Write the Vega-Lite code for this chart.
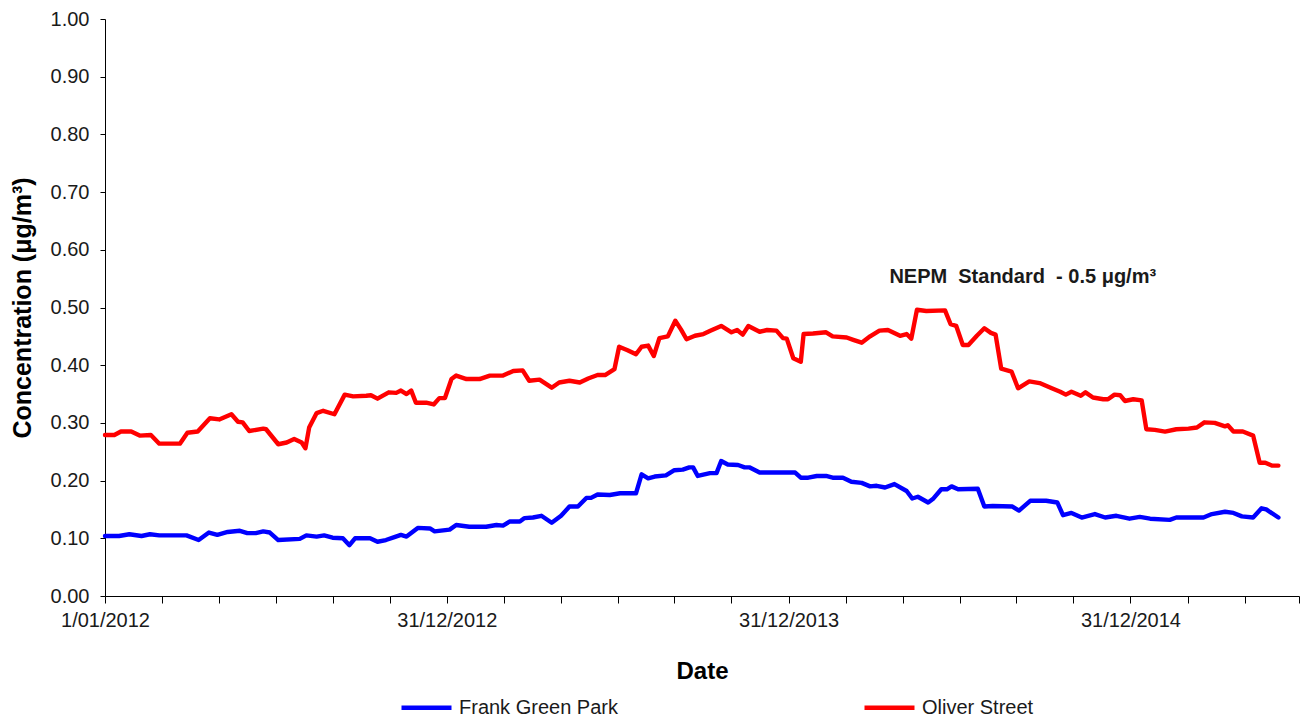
{
  "$schema": "https://vega.github.io/schema/vega-lite/v6.json",
  "autosize": "none",
  "width": 1194,
  "height": 577,
  "padding": {"left": 105, "top": 19, "right": 3, "bottom": 124},
  "background": "white",
  "config": {"font": "Liberation Sans", "view": {"stroke": null}},
  "datasets": {
    "series": [
      {"date":"2012-01-01","site":"Frank Green Park","value":0.104},
      {"date":"2012-01-16","site":"Frank Green Park","value":0.104},
      {"date":"2012-01-27","site":"Frank Green Park","value":0.107},
      {"date":"2012-02-09","site":"Frank Green Park","value":0.104},
      {"date":"2012-02-18","site":"Frank Green Park","value":0.107},
      {"date":"2012-02-28","site":"Frank Green Park","value":0.105},
      {"date":"2012-03-28","site":"Frank Green Park","value":0.105},
      {"date":"2012-04-10","site":"Frank Green Park","value":0.097},
      {"date":"2012-04-21","site":"Frank Green Park","value":0.110},
      {"date":"2012-04-30","site":"Frank Green Park","value":0.106},
      {"date":"2012-05-11","site":"Frank Green Park","value":0.111},
      {"date":"2012-05-24","site":"Frank Green Park","value":0.113},
      {"date":"2012-06-01","site":"Frank Green Park","value":0.109},
      {"date":"2012-06-10","site":"Frank Green Park","value":0.109},
      {"date":"2012-06-18","site":"Frank Green Park","value":0.112},
      {"date":"2012-06-25","site":"Frank Green Park","value":0.110},
      {"date":"2012-07-04","site":"Frank Green Park","value":0.097},
      {"date":"2012-07-27","site":"Frank Green Park","value":0.099},
      {"date":"2012-08-03","site":"Frank Green Park","value":0.105},
      {"date":"2012-08-14","site":"Frank Green Park","value":0.103},
      {"date":"2012-08-22","site":"Frank Green Park","value":0.105},
      {"date":"2012-08-31","site":"Frank Green Park","value":0.101},
      {"date":"2012-09-11","site":"Frank Green Park","value":0.100},
      {"date":"2012-09-18","site":"Frank Green Park","value":0.088},
      {"date":"2012-09-24","site":"Frank Green Park","value":0.100},
      {"date":"2012-10-10","site":"Frank Green Park","value":0.100},
      {"date":"2012-10-18","site":"Frank Green Park","value":0.094},
      {"date":"2012-10-27","site":"Frank Green Park","value":0.097},
      {"date":"2012-11-05","site":"Frank Green Park","value":0.102},
      {"date":"2012-11-12","site":"Frank Green Park","value":0.106},
      {"date":"2012-11-18","site":"Frank Green Park","value":0.103},
      {"date":"2012-11-30","site":"Frank Green Park","value":0.118},
      {"date":"2012-12-13","site":"Frank Green Park","value":0.117},
      {"date":"2012-12-18","site":"Frank Green Park","value":0.112},
      {"date":"2013-01-03","site":"Frank Green Park","value":0.115},
      {"date":"2013-01-10","site":"Frank Green Park","value":0.123},
      {"date":"2013-01-24","site":"Frank Green Park","value":0.120},
      {"date":"2013-02-11","site":"Frank Green Park","value":0.120},
      {"date":"2013-02-22","site":"Frank Green Park","value":0.123},
      {"date":"2013-03-01","site":"Frank Green Park","value":0.122},
      {"date":"2013-03-08","site":"Frank Green Park","value":0.129},
      {"date":"2013-03-19","site":"Frank Green Park","value":0.129},
      {"date":"2013-03-24","site":"Frank Green Park","value":0.135},
      {"date":"2013-04-02","site":"Frank Green Park","value":0.136},
      {"date":"2013-04-11","site":"Frank Green Park","value":0.139},
      {"date":"2013-04-22","site":"Frank Green Park","value":0.127},
      {"date":"2013-05-02","site":"Frank Green Park","value":0.139},
      {"date":"2013-05-11","site":"Frank Green Park","value":0.155},
      {"date":"2013-05-20","site":"Frank Green Park","value":0.155},
      {"date":"2013-05-29","site":"Frank Green Park","value":0.170},
      {"date":"2013-06-03","site":"Frank Green Park","value":0.170},
      {"date":"2013-06-10","site":"Frank Green Park","value":0.176},
      {"date":"2013-06-23","site":"Frank Green Park","value":0.175},
      {"date":"2013-07-04","site":"Frank Green Park","value":0.178},
      {"date":"2013-07-21","site":"Frank Green Park","value":0.178},
      {"date":"2013-07-27","site":"Frank Green Park","value":0.211},
      {"date":"2013-08-03","site":"Frank Green Park","value":0.204},
      {"date":"2013-08-10","site":"Frank Green Park","value":0.207},
      {"date":"2013-08-22","site":"Frank Green Park","value":0.209},
      {"date":"2013-08-31","site":"Frank Green Park","value":0.218},
      {"date":"2013-09-09","site":"Frank Green Park","value":0.219},
      {"date":"2013-09-16","site":"Frank Green Park","value":0.223},
      {"date":"2013-09-20","site":"Frank Green Park","value":0.223},
      {"date":"2013-09-25","site":"Frank Green Park","value":0.208},
      {"date":"2013-10-08","site":"Frank Green Park","value":0.213},
      {"date":"2013-10-15","site":"Frank Green Park","value":0.213},
      {"date":"2013-10-20","site":"Frank Green Park","value":0.234},
      {"date":"2013-10-27","site":"Frank Green Park","value":0.228},
      {"date":"2013-11-07","site":"Frank Green Park","value":0.227},
      {"date":"2013-11-14","site":"Frank Green Park","value":0.223},
      {"date":"2013-11-19","site":"Frank Green Park","value":0.223},
      {"date":"2013-11-30","site":"Frank Green Park","value":0.214},
      {"date":"2013-12-21","site":"Frank Green Park","value":0.214},
      {"date":"2014-01-07","site":"Frank Green Park","value":0.214},
      {"date":"2014-01-13","site":"Frank Green Park","value":0.205},
      {"date":"2014-01-21","site":"Frank Green Park","value":0.205},
      {"date":"2014-01-30","site":"Frank Green Park","value":0.208},
      {"date":"2014-02-09","site":"Frank Green Park","value":0.208},
      {"date":"2014-02-16","site":"Frank Green Park","value":0.205},
      {"date":"2014-02-27","site":"Frank Green Park","value":0.205},
      {"date":"2014-03-08","site":"Frank Green Park","value":0.198},
      {"date":"2014-03-19","site":"Frank Green Park","value":0.196},
      {"date":"2014-03-28","site":"Frank Green Park","value":0.190},
      {"date":"2014-04-04","site":"Frank Green Park","value":0.191},
      {"date":"2014-04-13","site":"Frank Green Park","value":0.188},
      {"date":"2014-04-23","site":"Frank Green Park","value":0.194},
      {"date":"2014-05-06","site":"Frank Green Park","value":0.182},
      {"date":"2014-05-12","site":"Frank Green Park","value":0.169},
      {"date":"2014-05-18","site":"Frank Green Park","value":0.172},
      {"date":"2014-05-29","site":"Frank Green Park","value":0.162},
      {"date":"2014-06-03","site":"Frank Green Park","value":0.168},
      {"date":"2014-06-12","site":"Frank Green Park","value":0.185},
      {"date":"2014-06-18","site":"Frank Green Park","value":0.185},
      {"date":"2014-06-23","site":"Frank Green Park","value":0.190},
      {"date":"2014-06-30","site":"Frank Green Park","value":0.185},
      {"date":"2014-07-21","site":"Frank Green Park","value":0.186},
      {"date":"2014-07-28","site":"Frank Green Park","value":0.155},
      {"date":"2014-08-06","site":"Frank Green Park","value":0.156},
      {"date":"2014-08-27","site":"Frank Green Park","value":0.155},
      {"date":"2014-09-03","site":"Frank Green Park","value":0.148},
      {"date":"2014-09-15","site":"Frank Green Park","value":0.165},
      {"date":"2014-10-02","site":"Frank Green Park","value":0.165},
      {"date":"2014-10-14","site":"Frank Green Park","value":0.162},
      {"date":"2014-10-20","site":"Frank Green Park","value":0.140},
      {"date":"2014-10-29","site":"Frank Green Park","value":0.144},
      {"date":"2014-11-09","site":"Frank Green Park","value":0.136},
      {"date":"2014-11-23","site":"Frank Green Park","value":0.142},
      {"date":"2014-12-04","site":"Frank Green Park","value":0.136},
      {"date":"2014-12-16","site":"Frank Green Park","value":0.139},
      {"date":"2014-12-30","site":"Frank Green Park","value":0.134},
      {"date":"2015-01-10","site":"Frank Green Park","value":0.137},
      {"date":"2015-01-21","site":"Frank Green Park","value":0.134},
      {"date":"2015-02-11","site":"Frank Green Park","value":0.132},
      {"date":"2015-02-18","site":"Frank Green Park","value":0.136},
      {"date":"2015-03-19","site":"Frank Green Park","value":0.136},
      {"date":"2015-03-28","site":"Frank Green Park","value":0.142},
      {"date":"2015-04-11","site":"Frank Green Park","value":0.146},
      {"date":"2015-04-20","site":"Frank Green Park","value":0.144},
      {"date":"2015-04-29","site":"Frank Green Park","value":0.138},
      {"date":"2015-05-11","site":"Frank Green Park","value":0.136},
      {"date":"2015-05-20","site":"Frank Green Park","value":0.152},
      {"date":"2015-05-25","site":"Frank Green Park","value":0.150},
      {"date":"2015-06-07","site":"Frank Green Park","value":0.136},
      {"date":"2012-01-01","site":"Oliver Street","value":0.279},
      {"date":"2012-01-11","site":"Oliver Street","value":0.279},
      {"date":"2012-01-18","site":"Oliver Street","value":0.285},
      {"date":"2012-01-29","site":"Oliver Street","value":0.285},
      {"date":"2012-02-07","site":"Oliver Street","value":0.278},
      {"date":"2012-02-19","site":"Oliver Street","value":0.279},
      {"date":"2012-02-28","site":"Oliver Street","value":0.264},
      {"date":"2012-03-21","site":"Oliver Street","value":0.264},
      {"date":"2012-03-29","site":"Oliver Street","value":0.283},
      {"date":"2012-04-09","site":"Oliver Street","value":0.285},
      {"date":"2012-04-22","site":"Oliver Street","value":0.308},
      {"date":"2012-05-02","site":"Oliver Street","value":0.306},
      {"date":"2012-05-15","site":"Oliver Street","value":0.315},
      {"date":"2012-05-22","site":"Oliver Street","value":0.302},
      {"date":"2012-05-27","site":"Oliver Street","value":0.301},
      {"date":"2012-06-03","site":"Oliver Street","value":0.286},
      {"date":"2012-06-18","site":"Oliver Street","value":0.290},
      {"date":"2012-06-21","site":"Oliver Street","value":0.289},
      {"date":"2012-07-04","site":"Oliver Street","value":0.263},
      {"date":"2012-07-13","site":"Oliver Street","value":0.266},
      {"date":"2012-07-21","site":"Oliver Street","value":0.272},
      {"date":"2012-07-29","site":"Oliver Street","value":0.266},
      {"date":"2012-08-02","site":"Oliver Street","value":0.256},
      {"date":"2012-08-06","site":"Oliver Street","value":0.292},
      {"date":"2012-08-14","site":"Oliver Street","value":0.317},
      {"date":"2012-08-21","site":"Oliver Street","value":0.321},
      {"date":"2012-09-02","site":"Oliver Street","value":0.315},
      {"date":"2012-09-13","site":"Oliver Street","value":0.349},
      {"date":"2012-09-22","site":"Oliver Street","value":0.346},
      {"date":"2012-10-06","site":"Oliver Street","value":0.347},
      {"date":"2012-10-11","site":"Oliver Street","value":0.348},
      {"date":"2012-10-18","site":"Oliver Street","value":0.342},
      {"date":"2012-10-30","site":"Oliver Street","value":0.353},
      {"date":"2012-11-07","site":"Oliver Street","value":0.352},
      {"date":"2012-11-12","site":"Oliver Street","value":0.356},
      {"date":"2012-11-18","site":"Oliver Street","value":0.350},
      {"date":"2012-11-23","site":"Oliver Street","value":0.356},
      {"date":"2012-11-28","site":"Oliver Street","value":0.335},
      {"date":"2012-12-09","site":"Oliver Street","value":0.335},
      {"date":"2012-12-17","site":"Oliver Street","value":0.332},
      {"date":"2012-12-23","site":"Oliver Street","value":0.343},
      {"date":"2012-12-29","site":"Oliver Street","value":0.343},
      {"date":"2013-01-05","site":"Oliver Street","value":0.376},
      {"date":"2013-01-10","site":"Oliver Street","value":0.382},
      {"date":"2013-01-21","site":"Oliver Street","value":0.376},
      {"date":"2013-02-04","site":"Oliver Street","value":0.376},
      {"date":"2013-02-15","site":"Oliver Street","value":0.382},
      {"date":"2013-03-01","site":"Oliver Street","value":0.382},
      {"date":"2013-03-12","site":"Oliver Street","value":0.390},
      {"date":"2013-03-22","site":"Oliver Street","value":0.391},
      {"date":"2013-03-29","site":"Oliver Street","value":0.373},
      {"date":"2013-04-09","site":"Oliver Street","value":0.375},
      {"date":"2013-04-22","site":"Oliver Street","value":0.361},
      {"date":"2013-04-30","site":"Oliver Street","value":0.370},
      {"date":"2013-05-11","site":"Oliver Street","value":0.373},
      {"date":"2013-05-22","site":"Oliver Street","value":0.370},
      {"date":"2013-05-31","site":"Oliver Street","value":0.377},
      {"date":"2013-06-10","site":"Oliver Street","value":0.383},
      {"date":"2013-06-18","site":"Oliver Street","value":0.383},
      {"date":"2013-06-28","site":"Oliver Street","value":0.393},
      {"date":"2013-07-03","site":"Oliver Street","value":0.432},
      {"date":"2013-07-12","site":"Oliver Street","value":0.426},
      {"date":"2013-07-21","site":"Oliver Street","value":0.419},
      {"date":"2013-07-27","site":"Oliver Street","value":0.432},
      {"date":"2013-08-03","site":"Oliver Street","value":0.434},
      {"date":"2013-08-09","site":"Oliver Street","value":0.416},
      {"date":"2013-08-15","site":"Oliver Street","value":0.447},
      {"date":"2013-08-24","site":"Oliver Street","value":0.450},
      {"date":"2013-09-01","site":"Oliver Street","value":0.477},
      {"date":"2013-09-07","site":"Oliver Street","value":0.462},
      {"date":"2013-09-13","site":"Oliver Street","value":0.445},
      {"date":"2013-09-22","site":"Oliver Street","value":0.451},
      {"date":"2013-10-01","site":"Oliver Street","value":0.454},
      {"date":"2013-10-09","site":"Oliver Street","value":0.460},
      {"date":"2013-10-20","site":"Oliver Street","value":0.468},
      {"date":"2013-10-31","site":"Oliver Street","value":0.457},
      {"date":"2013-11-06","site":"Oliver Street","value":0.461},
      {"date":"2013-11-12","site":"Oliver Street","value":0.453},
      {"date":"2013-11-18","site":"Oliver Street","value":0.468},
      {"date":"2013-11-30","site":"Oliver Street","value":0.458},
      {"date":"2013-12-08","site":"Oliver Street","value":0.461},
      {"date":"2013-12-18","site":"Oliver Street","value":0.460},
      {"date":"2013-12-25","site":"Oliver Street","value":0.447},
      {"date":"2013-12-29","site":"Oliver Street","value":0.446},
      {"date":"2014-01-05","site":"Oliver Street","value":0.412},
      {"date":"2014-01-13","site":"Oliver Street","value":0.406},
      {"date":"2014-01-16","site":"Oliver Street","value":0.454},
      {"date":"2014-01-26","site":"Oliver Street","value":0.455},
      {"date":"2014-02-09","site":"Oliver Street","value":0.457},
      {"date":"2014-02-16","site":"Oliver Street","value":0.450},
      {"date":"2014-03-03","site":"Oliver Street","value":0.448},
      {"date":"2014-03-10","site":"Oliver Street","value":0.444},
      {"date":"2014-03-19","site":"Oliver Street","value":0.439},
      {"date":"2014-03-28","site":"Oliver Street","value":0.450},
      {"date":"2014-04-07","site":"Oliver Street","value":0.460},
      {"date":"2014-04-16","site":"Oliver Street","value":0.461},
      {"date":"2014-04-29","site":"Oliver Street","value":0.451},
      {"date":"2014-05-06","site":"Oliver Street","value":0.454},
      {"date":"2014-05-11","site":"Oliver Street","value":0.446},
      {"date":"2014-05-17","site":"Oliver Street","value":0.496},
      {"date":"2014-05-27","site":"Oliver Street","value":0.494},
      {"date":"2014-06-16","site":"Oliver Street","value":0.495},
      {"date":"2014-06-22","site":"Oliver Street","value":0.471},
      {"date":"2014-06-28","site":"Oliver Street","value":0.468},
      {"date":"2014-07-05","site":"Oliver Street","value":0.435},
      {"date":"2014-07-11","site":"Oliver Street","value":0.435},
      {"date":"2014-07-20","site":"Oliver Street","value":0.451},
      {"date":"2014-07-28","site":"Oliver Street","value":0.464},
      {"date":"2014-08-04","site":"Oliver Street","value":0.456},
      {"date":"2014-08-09","site":"Oliver Street","value":0.453},
      {"date":"2014-08-15","site":"Oliver Street","value":0.394},
      {"date":"2014-08-26","site":"Oliver Street","value":0.389},
      {"date":"2014-09-02","site":"Oliver Street","value":0.360},
      {"date":"2014-09-14","site":"Oliver Street","value":0.372},
      {"date":"2014-09-25","site":"Oliver Street","value":0.369},
      {"date":"2014-10-08","site":"Oliver Street","value":0.360},
      {"date":"2014-10-17","site":"Oliver Street","value":0.354},
      {"date":"2014-10-23","site":"Oliver Street","value":0.349},
      {"date":"2014-10-29","site":"Oliver Street","value":0.354},
      {"date":"2014-11-08","site":"Oliver Street","value":0.347},
      {"date":"2014-11-13","site":"Oliver Street","value":0.353},
      {"date":"2014-11-21","site":"Oliver Street","value":0.344},
      {"date":"2014-12-02","site":"Oliver Street","value":0.341},
      {"date":"2014-12-07","site":"Oliver Street","value":0.341},
      {"date":"2014-12-14","site":"Oliver Street","value":0.349},
      {"date":"2014-12-20","site":"Oliver Street","value":0.348},
      {"date":"2014-12-25","site":"Oliver Street","value":0.338},
      {"date":"2015-01-03","site":"Oliver Street","value":0.341},
      {"date":"2015-01-12","site":"Oliver Street","value":0.339},
      {"date":"2015-01-17","site":"Oliver Street","value":0.289},
      {"date":"2015-01-26","site":"Oliver Street","value":0.288},
      {"date":"2015-02-06","site":"Oliver Street","value":0.285},
      {"date":"2015-02-18","site":"Oliver Street","value":0.289},
      {"date":"2015-03-03","site":"Oliver Street","value":0.290},
      {"date":"2015-03-12","site":"Oliver Street","value":0.292},
      {"date":"2015-03-20","site":"Oliver Street","value":0.301},
      {"date":"2015-03-31","site":"Oliver Street","value":0.300},
      {"date":"2015-04-11","site":"Oliver Street","value":0.294},
      {"date":"2015-04-14","site":"Oliver Street","value":0.296},
      {"date":"2015-04-20","site":"Oliver Street","value":0.285},
      {"date":"2015-04-30","site":"Oliver Street","value":0.285},
      {"date":"2015-05-11","site":"Oliver Street","value":0.278},
      {"date":"2015-05-18","site":"Oliver Street","value":0.231},
      {"date":"2015-05-24","site":"Oliver Street","value":0.231},
      {"date":"2015-05-31","site":"Oliver Street","value":0.226},
      {"date":"2015-06-07","site":"Oliver Street","value":0.226}
    ],
    "note": [
      {"date":"2014-09-07","value":0.553,"label":"NEPM\u00a0 Standard\u00a0 - 0.5 μg/m³"}
    ]
  },
  "encoding": {
    "x": {
      "field": "date",
      "type": "temporal",
      "scale": {
        "type": "utc",
        "domain": [
          {"year": 2012, "month": 1, "date": 1, "utc": true},
          {"year": 2015, "month": 6, "date": 29, "utc": true}
        ]
      },
      "axis": {
        "title": "Date",
        "titleFontSize": 24,
        "titleFontWeight": "bold",
        "titleColor": "black",
        "titlePadding": 29,
        "grid": false,
        "domainColor": "black",
        "domainWidth": 1,
        "tickColor": "black",
        "tickWidth": 1,
        "tickSize": 7,
        "encode": {
          "ticks": {
            "update": {
              "y2": {"signal": "(utcmonth(datum.value) == 11 || utcmonth(datum.value) == 0) ? 7 : -5"}
            }
          }
        },
        "labelFontSize": 20,
        "labelColor": "#1a1a1a",
        "labelPadding": 7,
        "labelFlush": false,
        "labelOverlap": false,
        "labelExpr": "(utcmonth(datum.value) == 11 || utcmonth(datum.value) == 0) ? utcFormat(datum.value, '%-d/%m/%Y') : ''",
        "values": [
          {"year": 2012, "month": 1, "date": 1, "utc": true},
          {"year": 2012, "month": 3, "date": 2, "utc": true},
          {"year": 2012, "month": 5, "date": 2, "utc": true},
          {"year": 2012, "month": 7, "date": 2, "utc": true},
          {"year": 2012, "month": 8, "date": 31, "utc": true},
          {"year": 2012, "month": 10, "date": 31, "utc": true},
          {"year": 2012, "month": 12, "date": 31, "utc": true},
          {"year": 2013, "month": 3, "date": 2, "utc": true},
          {"year": 2013, "month": 5, "date": 2, "utc": true},
          {"year": 2013, "month": 7, "date": 2, "utc": true},
          {"year": 2013, "month": 8, "date": 31, "utc": true},
          {"year": 2013, "month": 10, "date": 31, "utc": true},
          {"year": 2013, "month": 12, "date": 31, "utc": true},
          {"year": 2014, "month": 3, "date": 2, "utc": true},
          {"year": 2014, "month": 5, "date": 2, "utc": true},
          {"year": 2014, "month": 7, "date": 2, "utc": true},
          {"year": 2014, "month": 8, "date": 31, "utc": true},
          {"year": 2014, "month": 10, "date": 31, "utc": true},
          {"year": 2014, "month": 12, "date": 31, "utc": true},
          {"year": 2015, "month": 3, "date": 2, "utc": true},
          {"year": 2015, "month": 5, "date": 2, "utc": true},
          {"year": 2015, "month": 6, "date": 29, "utc": true}
        ]
      }
    },
    "y": {
      "field": "value",
      "type": "quantitative",
      "scale": {"domain": [0, 1], "nice": false, "zero": true},
      "axis": {
        "title": "Concentration (μg/m³)",
        "titleFontSize": 25,
        "titleFontWeight": "bold",
        "titleColor": "black",
        "titlePadding": 15,
        "grid": false,
        "domainColor": "black",
        "tickColor": "black",
        "tickSize": 5,
        "values": [0, 0.1, 0.2, 0.3, 0.4, 0.5, 0.6, 0.7, 0.8, 0.9, 1.0],
        "format": ".2f",
        "labelFontSize": 20,
        "labelColor": "#1a1a1a",
        "labelPadding": 11
      }
    }
  },
  "layer": [
    {
      "mark": {"type": "rule", "color": "black", "strokeWidth": 1.6, "strokeDash": [5, 3]},
      "encoding": {"x": null, "y": {"datum": 0.5, "type": "quantitative"}}
    },
    {
      "data": {"name": "series"},
      "mark": {"type": "line", "strokeWidth": 4.4, "strokeJoin": "round", "strokeCap": "round"},
      "encoding": {
        "color": {
          "field": "site",
          "type": "nominal",
          "scale": {"domain": ["Frank Green Park", "Oliver Street"], "range": ["#0000FF", "#FF0000"]},
          "legend": {
            "title": null,
            "orient": "none",
            "direction": "horizontal",
            "legendX": 294,
            "legendY": 661,
            "symbolType": "stroke",
            "symbolSize": 2500,
            "symbolStrokeWidth": 4.5,
            "labelFontSize": 20,
            "labelColor": "#1a1a1a",
            "labelOffset": 5,
            "columnPadding": 237
          }
        }
      }
    },
    {
      "data": {"name": "note"},
      "mark": {"type": "text", "fontSize": 20, "fontWeight": "bold", "color": "#1a1a1a", "align": "center", "baseline": "middle"},
      "encoding": {"text": {"field": "label"}}
    }
  ]
}
